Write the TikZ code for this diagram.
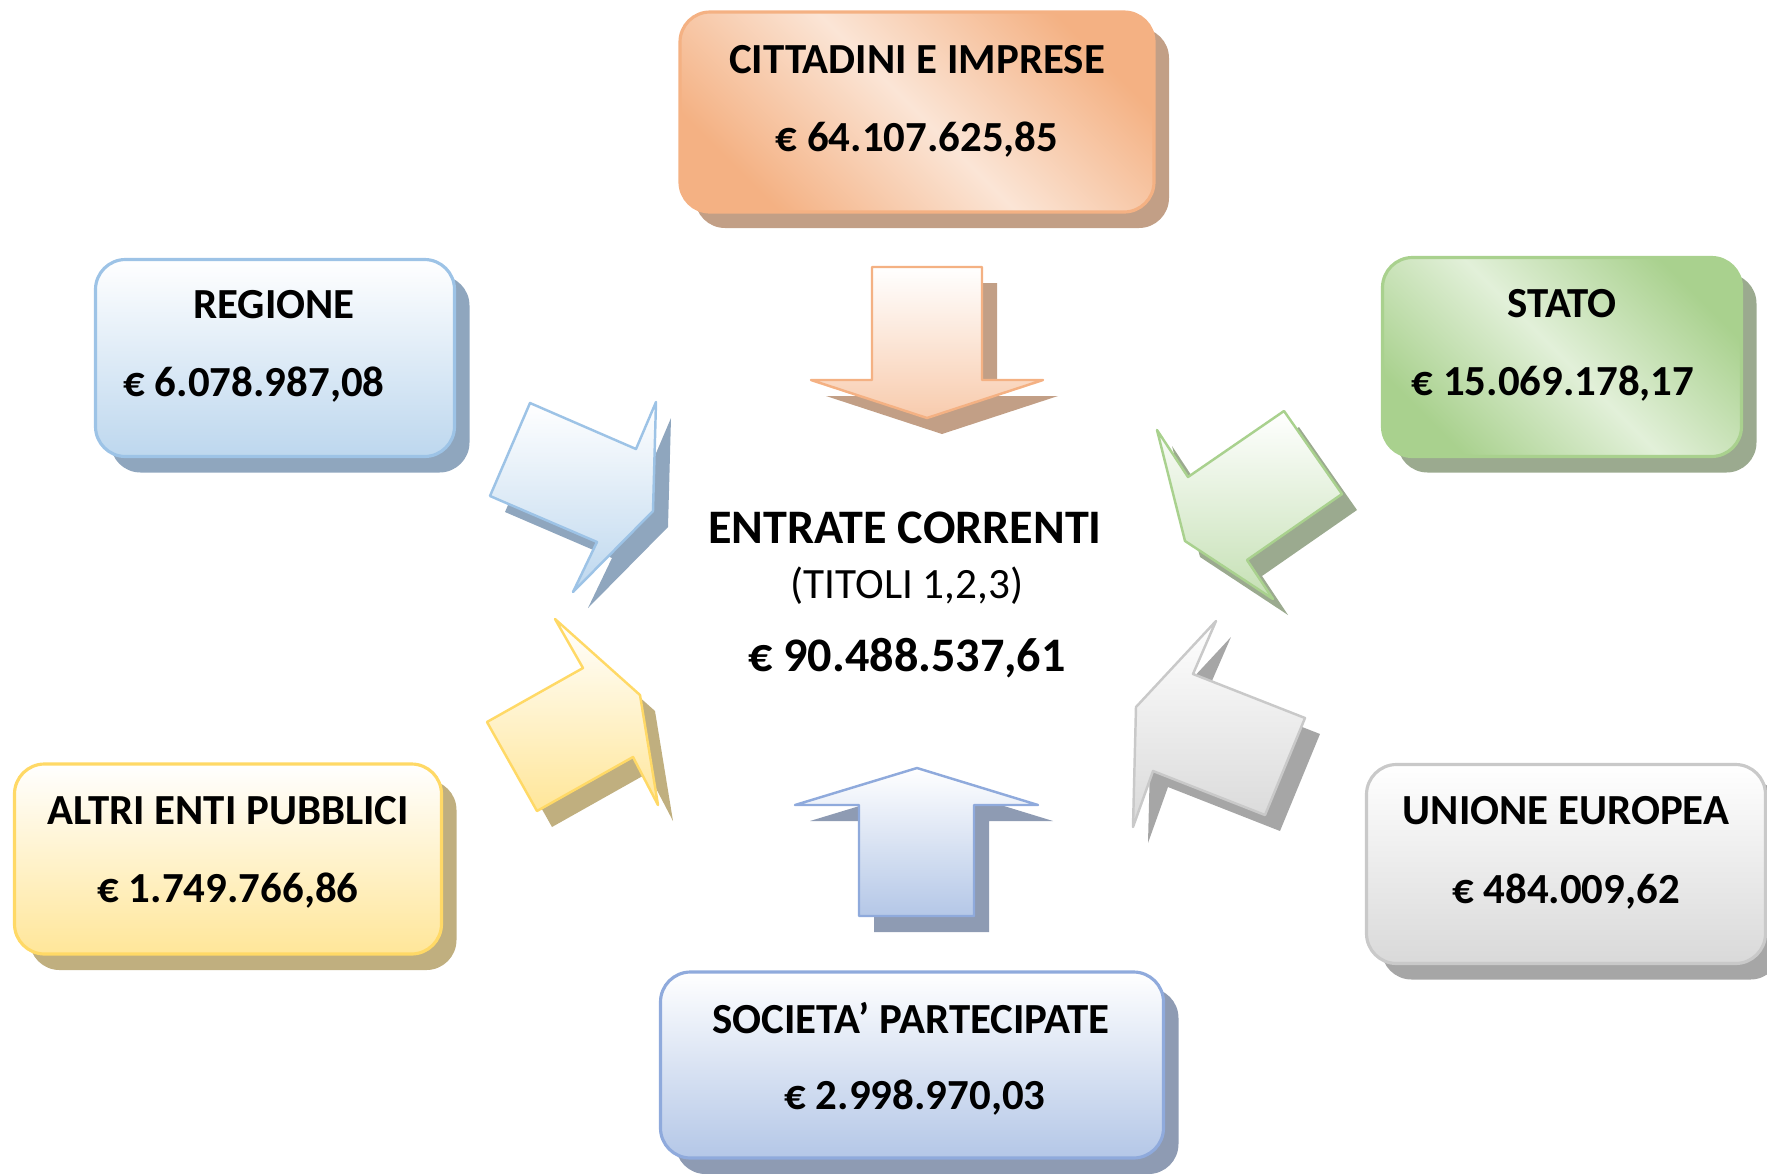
\documentclass[tikz,border=0pt]{standalone}
\usepackage{fontspec}
\setmainfont{Carlito}
\usetikzlibrary{shadows}

\definecolor{citL}{HTML}{F4B183}
\definecolor{citB}{HTML}{FBE5D6}
\definecolor{citA}{HTML}{F8CBAD}
\definecolor{citS}{HTML}{C29F86}
\definecolor{regL}{HTML}{9DC3E6}
\definecolor{regB}{HTML}{BDD7EE}
\definecolor{regS}{HTML}{8FA6BE}
\definecolor{staL}{HTML}{A9D18E}
\definecolor{staB}{HTML}{E2F0D9}
\definecolor{staA}{HTML}{C5E0B4}
\definecolor{staS}{HTML}{9BAA8F}
\definecolor{altL}{HTML}{FFD966}
\definecolor{altB}{HTML}{FFE699}
\definecolor{altS}{HTML}{C0AF7F}
\definecolor{uniL}{HTML}{C9C9C9}
\definecolor{uniB}{HTML}{D9D9D9}
\definecolor{uniS}{HTML}{A6A6A6}
\definecolor{socL}{HTML}{8FAADC}
\definecolor{socB}{HTML}{B4C7E7}
\definecolor{socS}{HTML}{8E9BB3}

\begin{document}
\begin{tikzpicture}[x=0.1mm, y=-0.1mm,
    shd/.style = {general shadow={fill=#1S, shadow xshift=1.5mm, shadow yshift=-1.6mm}},
    box/.style = {shd=#1, draw=#1L, line width=0.9pt, rounded corners=3mm, top color=white, bottom color=#1B},
    diag/.style = {shd=#1, draw=#1L, line width=0.9pt, rounded corners=3mm, top color=#1L, bottom color=#1L, middle color=#1B, shading angle=-45},
    blk/.style = {shd=#1, draw=#1L, line width=0.7pt, line join=round, top color=white, bottom color=#1B},
    ttl/.style = {anchor=base, font=\bfseries\fontsize{12.2}{14}\selectfont},
    big/.style = {anchor=base, font=\bfseries\fontsize{13.7}{16}\selectfont}]
\useasboundingbox (0,0) rectangle (1767,1173);

% caselle
\node[diag=cit, minimum width=47.4mm, minimum height=20mm] (cittadini) at (917,112) {};
\node[box=reg, minimum width=35.9mm, minimum height=19.7mm] (regione) at (275,358) {};
\node[diag=sta, minimum width=35.9mm, minimum height=19.9mm] (stato) at (1562,357) {};
\node[box=alt, minimum width=42.7mm, minimum height=19mm] (altri) at (228,859) {};
\node[box=uni, minimum width=39.9mm, minimum height=19.9mm] (unione) at (1566,864) {};
\node[box=soc, minimum width=50.3mm, minimum height=18.6mm] (societa) at (912,1065) {};

\node[ttl] (cittadini-t) at (917,73) {CITTADINI E IMPRESE};
\node[ttl] (cittadini-v) at (917,151) {€ 64.107.625,85};
\node[ttl] (regione-t) at (274,318) {REGIONE};
\node[ttl] (regione-v) at (254,396) {€ 6.078.987,08};
\node[ttl] (stato-t) at (1562,317) {STATO};
\node[ttl] (stato-v) at (1553,395) {€ 15.069.178,17};
\node[ttl] (altri-t) at (228,824) {ALTRI ENTI PUBBLICI};
\node[ttl] (altri-v) at (228,902) {€ 1.749.766,86};
\node[ttl] (unione-t) at (1566,824) {UNIONE EUROPEA};
\node[ttl] (unione-v) at (1566,903) {€ 484.009,62};
\node[ttl] (societa-t) at (911,1033) {SOCIETA’ PARTECIPATE};
\node[ttl] (societa-v) at (915,1109) {€ 2.998.970,03};

% centro
\node[big] (entrate) at (905,543) {ENTRATE CORRENTI};
\node[anchor=base, font=\fontsize{12.3}{14}\selectfont] (titoli) at (907,598) {(TITOLI 1,2,3)};
\node[big] (totale) at (907,671) {€ 90.488.537,61};

% frecce
\draw[blk=cit, bottom color=citA] (872,267) -- (982,267) -- (982,380) -- (1043,380) -- (927,418) -- (811,380) -- (872,380) -- cycle;
\draw[blk=soc] (917,768) -- (1038,805) -- (974,805) -- (974,916) -- (859,916) -- (859,805) -- (795,805) -- cycle;
\draw[blk=reg] (530,403) -- (636,449) -- (656,402) -- (653,511) -- (573,592) -- (597,542) -- (490,496) -- cycle;
\draw[blk=sta, bottom color=staA] (1157,430) -- (1188,477) -- (1284,411) -- (1342,494) -- (1247,560) -- (1273,599) -- (1185,541) -- cycle;
\draw[blk=alt] (555,619) -- (640,695) -- (658,805) -- (633,757) -- (537,811) -- (487,722) -- (583,668) -- cycle;
\draw[blk=uni] (1216,621) -- (1193,674) -- (1305,718) -- (1265,815) -- (1153,771) -- (1133,827) -- (1136,707) -- cycle;
\end{tikzpicture}
\end{document}
